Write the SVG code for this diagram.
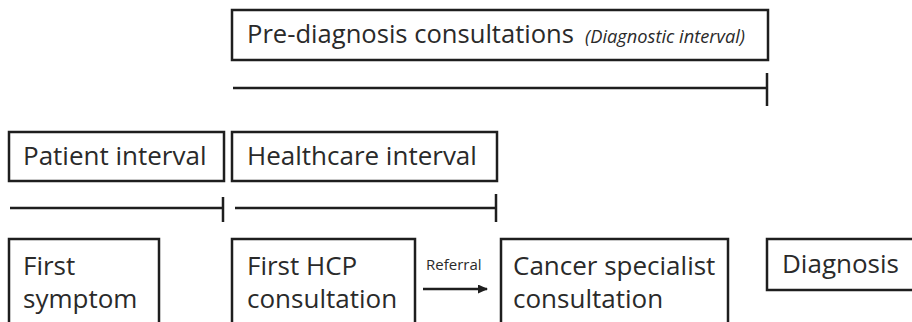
<svg xmlns="http://www.w3.org/2000/svg" width="912" height="322" viewBox="0 0 912 322">
<style>
.box{fill:#fff;stroke:#1e1e1e;stroke-width:2.5}
.t{font-family:"Open Sans","Noto Sans",sans-serif;font-size:26px;fill:#2a2a2a}
.it{font-family:"Open Sans","Noto Sans",sans-serif;font-size:18px;font-style:italic;fill:#2a2a2a}
.sm{font-family:"Open Sans","Noto Sans",sans-serif;font-size:15px;fill:#2a2a2a}
.ln{stroke:#1e1e1e;stroke-width:2.5;fill:none}
</style>
<defs>
<marker id="ah" markerWidth="10" markerHeight="9" refX="9" refY="4.5" orient="auto" markerUnits="userSpaceOnUse">
<path d="M0,0 L10,4.5 L0,9 Z" fill="#1e1e1e"/>
</marker>
</defs>
<rect width="912" height="322" fill="#fff"/>
<g id="pre-diagnosis">
<rect class="box" x="232" y="10" width="536" height="50"/>
<text class="t" x="247" y="43" textLength="327" lengthAdjust="spacingAndGlyphs">Pre-diagnosis consultations</text>
<text class="it" x="585" y="43" textLength="160" lengthAdjust="spacingAndGlyphs">(Diagnostic interval)</text>
</g>
<g id="patient-interval">
<rect class="box" x="9" y="132" width="215" height="49"/>
<text class="t" x="23" y="165">Patient interval</text>
</g>
<g id="healthcare-interval">
<rect class="box" x="232" y="132" width="265" height="49"/>
<text class="t" x="247" y="165">Healthcare interval</text>
</g>
<g id="first-symptom">
<rect class="box" x="9" y="239" width="150" height="100"/>
<text class="t" x="23" y="275">First</text>
<text class="t" x="23" y="308">symptom</text>
</g>
<g id="first-hcp">
<rect class="box" x="232" y="239" width="183" height="100"/>
<text class="t" x="247" y="275">First HCP</text>
<text class="t" x="247" y="308">consultation</text>
</g>
<g id="cancer-specialist">
<rect class="box" x="501" y="239" width="227" height="100"/>
<text class="t" x="513" y="275">Cancer specialist</text>
<text class="t" x="513" y="308">consultation</text>
</g>
<g id="diagnosis">
<rect class="box" x="767" y="239" width="160" height="51"/>
<text class="t" x="782" y="273">Diagnosis</text>
</g>
<g id="connectors">
<path class="ln" d="M233,88 H767 M767,73 V106"/>
<path class="ln" d="M10,208 H223 M223,197 V222"/>
<path class="ln" d="M235,208 H496 M496,194 V222"/>
<path class="ln" d="M423,289 H487" marker-end="url(#ah)"/>
<text class="sm" x="426" y="270">Referral</text>
</g>
</svg>
